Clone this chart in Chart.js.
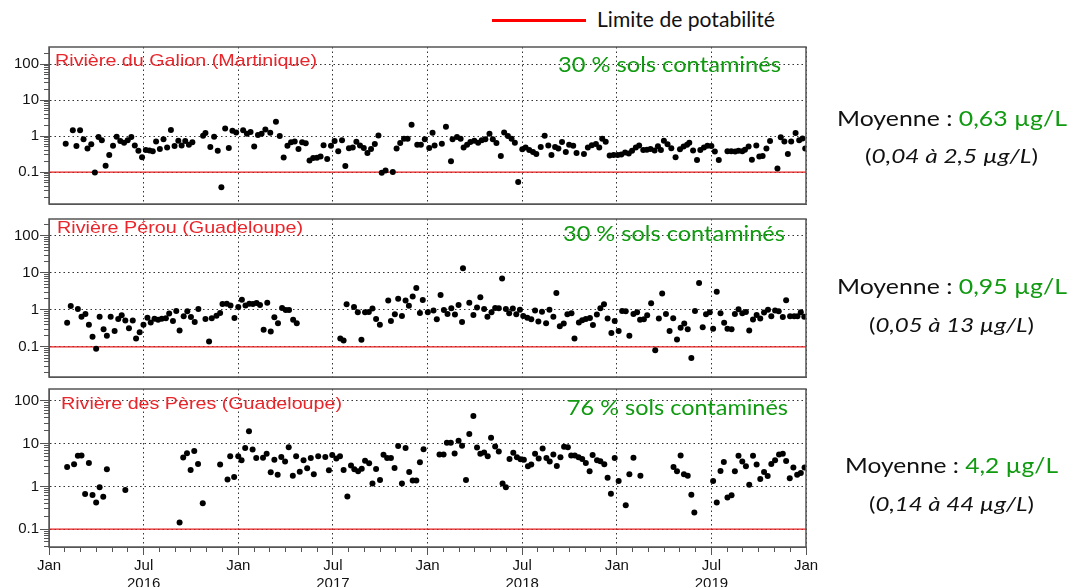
<!DOCTYPE html>
<html>
<head>
<meta charset="utf-8">
<script src="https://cdn.jsdelivr.net/npm/chart.js@4.4.1/dist/chart.umd.min.js"></script>
<style>
  body { margin: 0; width: 1070px; height: 587px; background: #fff; position: relative; overflow: hidden; font-family: Lato, sans-serif; }
  .panel { position: absolute; left: 0; width: 1070px; }
  .t { position: absolute; white-space: nowrap; line-height: 1; transform-origin: 0 0; }
  .ls { font-family: "Liberation Sans", Arial, sans-serif; color: #e8262b; font-size: 17px; }
  .g { color: #109a10; }
  .big { font-size: 22px; color: #111; }
  .small { font-size: 18.5px; color: #111; }
  .small i { font-style: italic; }
</style>
</head>
<body>
<div style="position:absolute;left:492px;top:19px;width:94px;height:3px;background:#f00"></div>
<div class="t" style="left:597px;top:8.4px;font-size:21px;color:#111" data-w="178">Limite de potabilité</div>

<div class="panel" style="top:42px;height:167px"><canvas id="c1"></canvas></div>
<div class="panel" style="top:214px;height:168px"><canvas id="c2"></canvas></div>
<div class="panel" style="top:384px;height:203px"><canvas id="c3"></canvas></div>

<div class="t ls" style="left:55px;top:51.6px" data-w="262">Rivière du Galion (Martinique)</div>
<div class="t ls" style="left:57px;top:218.6px" data-w="246">Rivière Pérou (Guadeloupe)</div>
<div class="t ls" style="left:61px;top:394.6px" data-w="281">Rivière des Pères (Guadeloupe)</div>

<div class="t g" style="left:558px;top:52.5px;font-size:22px" data-w="223">30 % sols contaminés</div>
<div class="t g" style="left:563px;top:221.5px;font-size:22px" data-w="222">30 % sols contaminés</div>
<div class="t g" style="left:567px;top:395.5px;font-size:22px" data-w="221">76 % sols contaminés</div>

<div class="t big" style="left:837px;top:106.5px" data-w="230">Moyenne : <span class="g">0,63 µg/L</span></div>
<div class="t small" style="left:865px;top:146.6px" data-w="173">(<i>0,04 à 2,5 µg/L</i>)</div>
<div class="t big" style="left:837px;top:274.5px" data-w="230">Moyenne : <span class="g">0,95 µg/L</span></div>
<div class="t small" style="left:869px;top:315.6px" data-w="165">(<i>0,05 à 13 µg/L</i>)</div>
<div class="t big" style="left:845px;top:453.5px" data-w="213">Moyenne : <span class="g">4,2 µg/L</span></div>
<div class="t small" style="left:869px;top:494.6px" data-w="165">(<i>0,14 à 44 µg/L</i>)</div>

<script>
// x = months since Jan 2016, y = concentration (µg/L)
const galion = [[1.06,0.61],[1.51,1.44],[1.74,0.53],[1.97,1.44],[2.19,0.81],[2.44,0.45],[2.68,0.59],[2.91,0.098],[3.14,0.94],[3.35,0.77],[3.59,0.15],[3.82,0.30],[4.06,0.54],[4.29,0.96],[4.52,0.73],[4.76,0.65],[4.99,0.76],[5.22,0.94],[5.44,0.55],[5.67,0.39],[5.90,0.26],[6.14,0.41],[6.37,0.40],[6.58,0.38],[6.79,0.71],[7.03,0.44],[7.26,0.82],[7.49,0.48],[7.73,1.47],[7.96,0.53],[8.20,0.74],[8.41,0.55],[8.64,0.73],[8.87,0.57],[9.09,0.67],[9.77,1.02],[9.92,1.21],[10.23,0.50],[10.47,0.96],[10.70,0.39],[10.93,0.038],[11.17,1.63],[11.40,0.47],[11.63,1.41],[11.87,1.26],[12.31,1.44],[12.55,1.16],[12.78,1.29],[13.01,0.51],[13.25,1.07],[13.48,1.16],[13.72,1.53],[14.03,1.24],[14.39,2.5],[14.63,1.0],[14.88,0.255],[15.12,0.54],[15.35,0.67],[15.58,0.71],[15.82,0.44],[16.05,0.67],[16.28,0.63],[16.52,0.21],[16.75,0.245],[16.99,0.25],[17.22,0.27],[17.41,0.56],[17.64,0.23],[17.88,0.54],[18.11,0.73],[18.34,0.38],[18.58,0.77],[18.79,0.147],[19.02,0.46],[19.26,0.48],[19.49,0.70],[19.72,0.55],[19.96,0.47],[20.19,0.34],[20.42,0.44],[20.66,0.60],[20.89,1.04],[21.10,0.096],[21.34,0.11],[21.80,0.10],[22.04,0.45],[22.27,0.64],[22.51,0.84],[22.74,0.84],[22.99,2.06],[23.35,0.57],[23.58,0.57],[23.83,0.81],[24.11,0.47],[24.32,1.24],[24.45,0.55],[24.91,0.61],[25.17,1.82],[25.49,0.20],[25.59,0.82],[25.87,0.94],[26.10,0.84],[26.29,0.48],[26.51,0.57],[26.72,0.68],[26.97,0.74],[27.21,0.65],[27.44,0.77],[27.67,0.82],[27.93,1.16],[28.14,0.81],[28.37,0.64],[28.65,0.28],[28.86,1.26],[29.10,1.0],[29.33,0.84],[29.54,0.65],[29.75,0.053],[30.01,0.43],[30.22,0.48],[30.45,0.41],[30.69,0.36],[30.90,0.32],[31.18,0.50],[31.43,1.02],[31.66,0.55],[31.86,0.30],[32.09,0.50],[32.30,0.45],[32.53,0.68],[32.77,0.36],[32.98,0.57],[33.24,0.54],[33.45,0.34],[33.92,0.32],[34.17,0.48],[34.42,0.56],[34.68,0.60],[34.89,0.48],[35.08,0.84],[35.30,0.70],[35.55,0.29],[35.80,0.30],[36.06,0.30],[36.29,0.31],[36.53,0.35],[36.76,0.33],[36.97,0.39],[37.21,0.48],[37.42,0.55],[37.68,0.41],[37.91,0.42],[38.14,0.44],[38.40,0.40],[38.61,0.52],[38.80,0.41],[38.99,0.74],[39.22,0.59],[39.46,0.46],[39.73,0.26],[40.01,0.43],[40.24,0.51],[40.46,0.57],[40.60,0.65],[40.84,0.40],[41.09,0.215],[41.30,0.41],[41.53,0.48],[41.75,0.54],[42.00,0.53],[42.22,0.37],[42.47,0.215],[43.02,0.38],[43.26,0.38],[43.51,0.37],[43.72,0.39],[43.96,0.38],[44.13,0.42],[44.36,0.51],[44.57,0.22],[44.85,0.55],[45.04,0.27],[45.25,0.28],[45.49,0.45],[45.72,0.73],[46.19,0.126],[46.40,0.92],[46.63,0.71],[46.85,0.32],[47.06,0.71],[47.34,1.21],[47.57,0.77],[47.78,0.86],[47.95,0.45]];

const perou = [[1.15,0.45],[1.38,1.28],[1.83,1.06],[2.06,0.66],[2.31,0.78],[2.53,0.40],[2.76,0.19],[2.99,0.09],[3.21,0.66],[3.46,0.30],[3.67,0.20],[3.91,0.66],[4.16,0.27],[4.39,0.57],[4.61,0.72],[4.84,0.52],[5.07,0.32],[5.31,0.52],[5.52,0.17],[5.75,0.25],[5.99,0.40],[6.24,0.62],[6.45,0.46],[6.69,0.58],[6.92,0.54],[7.15,0.58],[7.41,0.60],[7.62,0.80],[7.86,0.50],[8.07,0.94],[8.28,0.28],[8.54,0.68],[8.77,0.92],[9.00,0.65],[9.24,0.47],[9.47,1.06],[9.92,0.57],[10.15,0.14],[10.32,0.60],[10.62,0.70],[10.85,0.83],[11.00,1.45],[11.27,1.48],[11.51,1.33],[11.76,0.61],[12.00,1.2],[12.23,1.9],[12.46,1.33],[12.70,1.48],[12.93,1.45],[13.16,1.54],[13.38,1.36],[13.61,0.29],[13.84,1.57],[14.06,0.26],[14.29,0.64],[14.52,0.44],[14.78,1.13],[15.01,1.0],[15.22,1.0],[15.48,0.54],[15.71,0.44],[18.47,0.17],[18.68,0.15],[18.87,1.42],[19.34,1.2],[19.58,0.87],[19.81,0.156],[20.04,0.87],[20.28,0.88],[20.51,1.1],[20.74,0.57],[20.98,0.40],[21.51,1.8],[21.68,0.50],[21.93,0.76],[22.14,2.0],[22.38,0.69],[22.61,1.8],[22.82,1.3],[23.06,2.3],[23.29,3.9],[23.52,0.83],[23.70,1.86],[24.02,0.87],[24.38,0.96],[24.59,0.56],[24.83,2.53],[25.04,1.0],[25.27,0.78],[25.51,1.11],[25.74,0.75],[25.97,1.36],[26.19,0.47],[26.25,13.4],[26.65,1.57],[26.91,0.73],[27.14,1.16],[27.35,2.19],[27.59,1.06],[27.80,0.66],[28.06,0.87],[28.29,1.13],[28.52,1.11],[28.73,7.1],[28.97,1.06],[29.18,0.81],[29.41,1.09],[29.63,0.76],[29.86,1.02],[30.07,0.69],[30.33,0.62],[30.58,0.56],[30.82,0.96],[31.03,0.49],[31.26,0.90],[31.52,0.44],[31.73,1.02],[31.98,0.66],[32.17,2.86],[32.39,0.36],[32.64,0.43],[32.87,0.76],[33.13,0.81],[33.32,0.17],[33.60,0.46],[33.81,0.53],[34.04,0.57],[34.30,0.61],[34.49,0.39],[34.74,0.75],[34.96,1.11],[35.19,1.42],[35.42,0.59],[35.66,0.24],[35.87,0.50],[36.12,0.27],[36.34,0.94],[36.57,0.92],[36.80,0.20],[37.06,0.78],[37.29,0.87],[37.48,0.54],[37.72,0.56],[37.93,0.72],[38.18,1.51],[38.44,0.082],[38.67,0.59],[38.88,2.8],[39.12,0.78],[39.35,0.27],[39.58,0.60],[39.82,0.16],[40.05,0.33],[40.28,0.43],[40.50,0.30],[40.73,0.05],[40.96,0.94],[41.22,5.4],[41.45,0.34],[41.66,0.76],[41.90,0.87],[42.11,0.31],[42.34,3.1],[42.58,0.81],[42.81,0.45],[43.02,0.31],[43.28,0.30],[43.49,0.78],[43.72,1.04],[43.96,0.81],[44.19,0.88],[44.40,0.28],[44.64,0.55],[44.87,0.73],[45.10,0.59],[45.34,0.85],[45.59,1.02],[45.80,0.68],[46.04,0.96],[46.27,0.92],[46.53,0.65],[46.74,1.82],[46.99,0.68],[47.25,0.68],[47.46,0.68],[47.67,0.87],[47.89,0.66]];

const peres = [[1.15,2.86],[1.59,3.3],[1.83,5.2],[2.06,5.3],[2.29,0.66],[2.53,3.55],[2.76,0.63],[2.99,0.42],[3.21,0.95],[3.44,0.57],[3.67,2.52],[4.84,0.82],[8.28,0.142],[8.51,4.74],[8.75,6.0],[8.98,2.43],[9.21,6.7],[9.45,3.36],[9.75,0.40],[10.85,3.24],[11.32,1.44],[11.49,5.1],[11.74,1.66],[12.00,5.1],[12.21,4.1],[12.44,7.9],[12.68,19.5],[12.91,7.3],[13.14,4.6],[13.57,4.7],[13.80,5.8],[14.06,2.14],[14.29,4.2],[14.50,1.88],[14.73,4.9],[14.97,3.8],[15.20,8.3],[15.46,1.78],[15.67,5.1],[15.90,2.2],[16.14,4.1],[16.37,2.66],[16.60,4.65],[16.79,1.92],[17.07,5.1],[17.52,4.9],[17.75,2.38],[17.96,5.4],[18.22,4.5],[18.45,5.1],[18.68,2.43],[18.92,0.58],[19.15,3.07],[19.36,2.52],[19.60,2.26],[19.83,2.6],[20.04,4.0],[20.30,3.5],[20.51,1.16],[20.74,2.56],[20.99,1.41],[21.21,5.5],[21.44,4.6],[21.68,4.6],[21.91,2.7],[22.14,8.8],[22.38,1.16],[22.61,7.9],[22.84,2.18],[23.06,1.38],[23.29,1.38],[23.52,3.68],[23.75,7.4],[24.76,5.6],[25.02,5.6],[25.23,10.5],[25.48,10.5],[25.72,5.9],[25.97,11.7],[26.19,8.9],[26.44,1.41],[26.65,16.8],[26.91,44.6],[27.14,8.15],[27.35,5.8],[27.59,6.2],[27.82,5.1],[28.03,13.8],[28.29,8.6],[28.52,6.6],[28.76,1.16],[28.97,0.95],[29.20,4.4],[29.44,6.1],[29.67,4.8],[29.90,4.3],[30.11,4.2],[30.37,2.96],[30.58,3.24],[30.82,5.8],[31.05,4.5],[31.30,7.7],[31.54,4.6],[31.75,3.8],[31.98,5.6],[32.20,3.0],[32.43,4.8],[32.66,8.45],[32.90,8.3],[33.11,5.3],[33.34,5.3],[33.58,4.8],[33.81,4.4],[34.04,3.55],[34.28,2.26],[34.47,5.4],[34.75,4.1],[34.96,3.9],[35.21,3.3],[35.42,1.6],[35.63,0.67],[35.87,4.6],[36.12,1.34],[36.57,0.36],[36.80,1.92],[37.06,4.7],[37.50,1.78],[39.60,2.86],[39.82,2.26],[40.05,5.3],[40.26,1.92],[40.50,1.78],[40.73,0.64],[40.92,0.244],[42.11,1.34],[42.34,0.42],[42.58,2.3],[42.79,3.7],[43.02,0.55],[43.28,0.62],[43.49,2.26],[43.72,5.2],[43.96,3.8],[44.19,2.96],[44.40,1.09],[44.64,5.2],[44.87,3.24],[45.10,1.49],[45.34,2.18],[45.57,1.75],[45.80,3.36],[46.04,4.1],[46.29,5.6],[46.53,5.8],[46.74,3.95],[46.97,1.54],[47.20,2.75],[47.44,1.88],[47.67,2.06],[47.91,2.75]];

const limite = 0.1;              // limite de potabilité
const monthLabels = ['Jan', 'Jul'];
const years = [2016, 2017, 2018, 2019];
const yLabels = [0.1, 1, 10, 100];

// fit html texts to the reference widths
document.querySelectorAll('[data-w]').forEach(el => {
  const w = el.getBoundingClientRect().width;
  el.style.transform = 'scaleX(' + (+el.dataset.w / w) + ')';
});

const isPow10 = v => Math.abs(Math.log10(v) - Math.round(Math.log10(v))) < 1e-6;

function logTicks(min, max) {
  const out = [];
  for (let e = -3; e <= 3; e++) {
    for (let m = 1; m <= 9; m++) {
      const v = +(m * Math.pow(10, e)).toPrecision(6);
      if (v >= min && v <= max) out.push(v);
    }
  }
  return out;
}

function xLabel(v) {
  if (v % 6 !== 0) return '';
  const name = monthLabels[(v % 12) / 6];
  if (name === 'Jul') return [name, String(years[(v - 6) / 12])];
  return name;
}

const frame = {
  id: 'frame',
  afterDraw(chart) {
    const a = chart.chartArea, c = chart.ctx;
    c.save();
    c.strokeStyle = '#555';
    c.lineWidth = 1.5;
    c.strokeRect(a.left, a.top, a.right - a.left, a.bottom - a.top);
    c.restore();
  }
};

const tickFont = { family: '"Liberation Sans", Arial, sans-serif', size: 15 };

function makePanel(id, series, yMin, yMax, showX, padTop, padBottom) {
  return new Chart(document.getElementById(id), {
    type: 'scatter',
    data: {
      datasets: [{
        data: series.map(p => ({ x: p[0], y: p[1] })),
        backgroundColor: '#000',
        borderWidth: 0,
        pointRadius: 3,
        order: 0
      }, {
        type: 'line',
        data: [{ x: 0, y: limite }, { x: 48, y: limite }],
        borderColor: 'rgb(230,30,30)',
        borderWidth: 1.2,
        pointRadius: 0,
        order: 1
      }]
    },
    options: {
      responsive: true,
      maintainAspectRatio: false,
      animation: false,
      layout: { padding: { left: 0, right: 264, top: padTop, bottom: padBottom } },
      plugins: { legend: { display: false }, tooltip: { enabled: false } },
      scales: {
        x: {
          type: 'linear', min: 0, max: 48,
          afterFit: a => { a.height = showX ? 40 : 0; a.paddingLeft = 0; a.paddingRight = 0; },
          afterBuildTicks: a => { a.ticks = Array.from({ length: 49 }, (_, i) => ({ value: i })); },
          ticks: {
            display: showX, autoSkip: false, maxRotation: 0, padding: 2,
            font: tickFont, color: '#111',
            callback: v => xLabel(v)
          },
          grid: {
            drawTicks: showX, tickLength: 8, tickColor: '#555',
            tickBorderDash: ctx => (ctx.tick && ctx.tick.value % 6 === 0) ? [] : [4, 20],
            color: ctx => (ctx.tick && ctx.tick.value % 6 === 0) ? '#333' : 'rgba(0,0,0,0)'
          },
          border: { color: '#555', dash: [1.5, 3] }
        },
        y: {
          type: 'logarithmic', min: yMin, max: yMax,
          afterFit: a => { a.width = 49; a.paddingTop = 0; a.paddingBottom = 0; },
          afterBuildTicks: a => { a.ticks = logTicks(yMin, yMax).map(v => ({ value: v })); },
          ticks: {
            autoSkip: false, padding: 1, font: tickFont, color: '#111',
            callback: v => yLabels.includes(v) ? String(v) : ''
          },
          grid: {
            tickLength: 9, tickColor: '#555',
            tickBorderDash: ctx => (ctx.tick && isPow10(ctx.tick.value)) ? [] : [0, 4, 20, 0],
            color: ctx => (ctx.tick && isPow10(ctx.tick.value)) ? '#333' : 'rgba(0,0,0,0)'
          },
          border: { color: '#555', dash: [1.5, 3] }
        }
      }
    },
    plugins: [frame]
  });
}

makePanel('c1', galion, 0.013, 297, false, 5, 5);
makePanel('c2', perou, 0.0154, 288, false, 5, 5);
makePanel('c3', peres, 0.038, 191, true, 5, 0);
</script>
</body>
</html>
